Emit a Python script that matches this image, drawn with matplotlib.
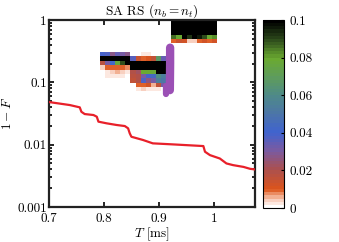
import numpy as np
import matplotlib
matplotlib.use("Agg")
import matplotlib.pyplot as plt
from matplotlib.colors import ListedColormap, LinearSegmentedColormap

plt.rcParams['font.family'] = 'serif'
plt.rcParams['font.serif'] = ['cmr10', 'DejaVu Serif']
plt.rcParams['mathtext.fontset'] = 'cm'
plt.rcParams['axes.formatter.use_mathtext'] = True

# ---- data ----
# red line: best 1-F vs T
line_T = [0.700, 0.738, 0.756, 0.759, 0.765, 0.781, 0.787, 0.790, 0.805, 0.823,
          0.838, 0.844, 0.847, 0.850, 0.871, 0.889, 0.926, 0.981, 0.984, 0.993,
          1.011, 1.023, 1.035, 1.054, 1.066, 1.075]
line_F = [0.0483, 0.0432, 0.0397, 0.0337, 0.0310, 0.0299, 0.0281, 0.0234, 0.0220, 0.0207,
          0.0199, 0.0183, 0.0152, 0.0134, 0.0119, 0.0105, 0.0101, 0.0095, 0.0077, 0.0068,
          0.0060, 0.0050, 0.0047, 0.0044, 0.0041, 0.0040]

# purple band (vertical cluster)
band_T = [0.9205, 0.9205, 0.9200, 0.9130, 0.9130]
band_F = [0.36, 0.20, 0.075, 0.088, 0.064]

# heat-map grid: T edges and log10(1-F) edges
T_edges = 0.7925 + 0.0093 * np.arange(24)
logF_edges = 0.046 - 0.07 * np.arange(19)

# rows j = 0..17 (top to bottom), columns c = 0..22
heat_rows = {
    0: {c: 0.11 for c in range(14, 23)},
    1: {c: 0.11 for c in range(14, 23)},
    2: {c: 0.11 for c in range(14, 23)},
    3: {c: 0.11 for c in range(14, 23)},
    4: dict(zip(range(14, 23), [0.085, 0.08, 0.11, 0.093, 0.11, 0.095, 0.09, 0.08, 0.082])),
    5: dict(zip(range(14, 23), [0.010, 0.014, 0.012, 0.004, 0.004, 0.009, 0.012, 0.010, 0.012])),
    8: {0: 0.040, 1: 0.038, 2: 0.028, 3: 0.034, 4: 0.030, 5: 0.028, 8: 0.002, 9: 0.003},
    9: {0: 0.11, 1: 0.11, 2: 0.11, 3: 0.11, 4: 0.11, 5: 0.11,
        6: 0.035, 7: 0.014, 8: 0.010, 9: 0.011, 10: 0.016, 11: 0.068, 12: 0.034},
    10: {0: 0.018, 1: 0.030, 2: 0.042, 3: 0.078, 4: 0.090, 5: 0.11,
         6: 0.11, 7: 0.11, 8: 0.11, 9: 0.11, 10: 0.11, 11: 0.11, 12: 0.11},
    11: {0: 0.004, 1: 0.009, 2: 0.010, 3: 0.010, 4: 0.009, 5: 0.008,
         6: 0.11, 7: 0.11, 8: 0.11, 9: 0.11, 10: 0.11, 11: 0.11, 12: 0.11},
    12: {1: 0.003, 2: 0.005, 3: 0.006, 4: 0.005, 5: 0.003,
         6: 0.020, 7: 0.022, 8: 0.080, 9: 0.080, 10: 0.078, 11: 0.11, 12: 0.11},
    13: {1: 0.002, 2: 0.002, 3: 0.003, 4: 0.002,
         6: 0.018, 7: 0.020, 8: 0.030, 9: 0.040, 10: 0.045, 11: 0.060, 12: 0.055},
    14: {2: 0.001,
         6: 0.015, 7: 0.020, 8: 0.038, 9: 0.025, 10: 0.030, 11: 0.055, 12: 0.050},
    15: {7: 0.010, 8: 0.009, 9: 0.012, 10: 0.006, 11: 0.015, 12: 0.030},
    16: {7: 0.003, 8: 0.004, 9: 0.003, 10: 0.002, 11: 0.003},
    17: {9: 0.001},
}

heat = np.full((len(logF_edges) - 1, len(T_edges) - 1), np.nan)
for j, row in heat_rows.items():
    for c, v in row.items():
        heat[j, c] = v
heat = np.ma.masked_invalid(heat)

# colormap anchors
cm_pos = [0.000, 0.02, 0.04, 0.06, 0.08, 0.10, 0.20, 0.30, 0.40, 0.50, 0.60, 0.70, 0.80, 0.90, 1.00]
cm_col = ['#ffffff', '#fbe2d8', '#f6c3ad', '#efa07c', '#e0622a', '#d9541e', '#aa5050', '#7b5aa0',
          '#3f63d0', '#4c75a8', '#4e8a88', '#5e9c5c', '#6aaa30', '#2e4c1c', '#000000']
base = LinearSegmentedColormap.from_list('c', list(zip(cm_pos, cm_col)))
cmap = ListedColormap(base(np.linspace(0, 1, 60)))
cmap.set_over('black')
cmap.set_bad(alpha=0)

FS = 9.5

# ---- figure ----
fig = plt.figure(figsize=(3.39, 2.42), dpi=100)
ax = fig.add_axes([0.1445, 0.1446, 0.6077, 0.7727])
cax = fig.add_axes([0.776, 0.1405, 0.062, 0.7768])

TT, LL = np.meshgrid(T_edges, 10 ** logF_edges)
mesh = ax.pcolormesh(TT, LL, heat, cmap=cmap, vmin=0, vmax=0.1, shading='flat',
                     antialiased=False, rasterized=True)

ax.plot(band_T[:3], band_F[:3], color='#9b50b5', lw=6, solid_capstyle='round', zorder=3)
ax.plot(band_T[3:], band_F[3:], color='#9b50b5', lw=4.5, solid_capstyle='round', zorder=3)
ax.plot(line_T, line_F, color='#e8202a', lw=1.6, zorder=4)

ax.set_yscale('log')
ax.set_xlim(0.7, 1.075)
ax.set_ylim(0.001, 1)
ax.set_xticks([0.7, 0.8, 0.9, 1.0])
ax.set_xticklabels(['0.7', '0.8', '0.9', '1'])
ax.set_yticks([0.001, 0.01, 0.1, 1])
ax.set_yticklabels(['0.001', '0.01', '0.1', '1'])
ax.tick_params(which='both', direction='in', top=True, right=True, labelsize=FS, width=1.2)
ax.tick_params(axis='y', pad=1.5)
ax.tick_params(axis='x', pad=4.5)
ax.tick_params(which='major', length=3.5)
ax.tick_params(which='minor', length=2)
ax.xaxis.set_minor_locator(matplotlib.ticker.NullLocator())
for s in ax.spines.values():
    s.set_linewidth(1.6)
    s.set_color('#222222')

ax.set_title(r'SA RS ($n_b = n_t$)', fontsize=FS, pad=4)
ax.set_xlabel(r'$T$ [ms]', fontsize=FS, labelpad=0)
ax.set_ylabel(r'$1-F$', fontsize=FS, labelpad=2)

cb = fig.colorbar(mesh, cax=cax, extend='neither')
cb.set_ticks([0, 0.02, 0.04, 0.06, 0.08, 0.1])
cb.set_ticklabels(['0', '0.02', '0.04', '0.06', '0.08', '0.1'])
cax.tick_params(direction='in', length=2, labelsize=FS, width=0.8, pad=4)
cb.outline.set_linewidth(0.8)

fig.savefig('out.png', dpi=100)
